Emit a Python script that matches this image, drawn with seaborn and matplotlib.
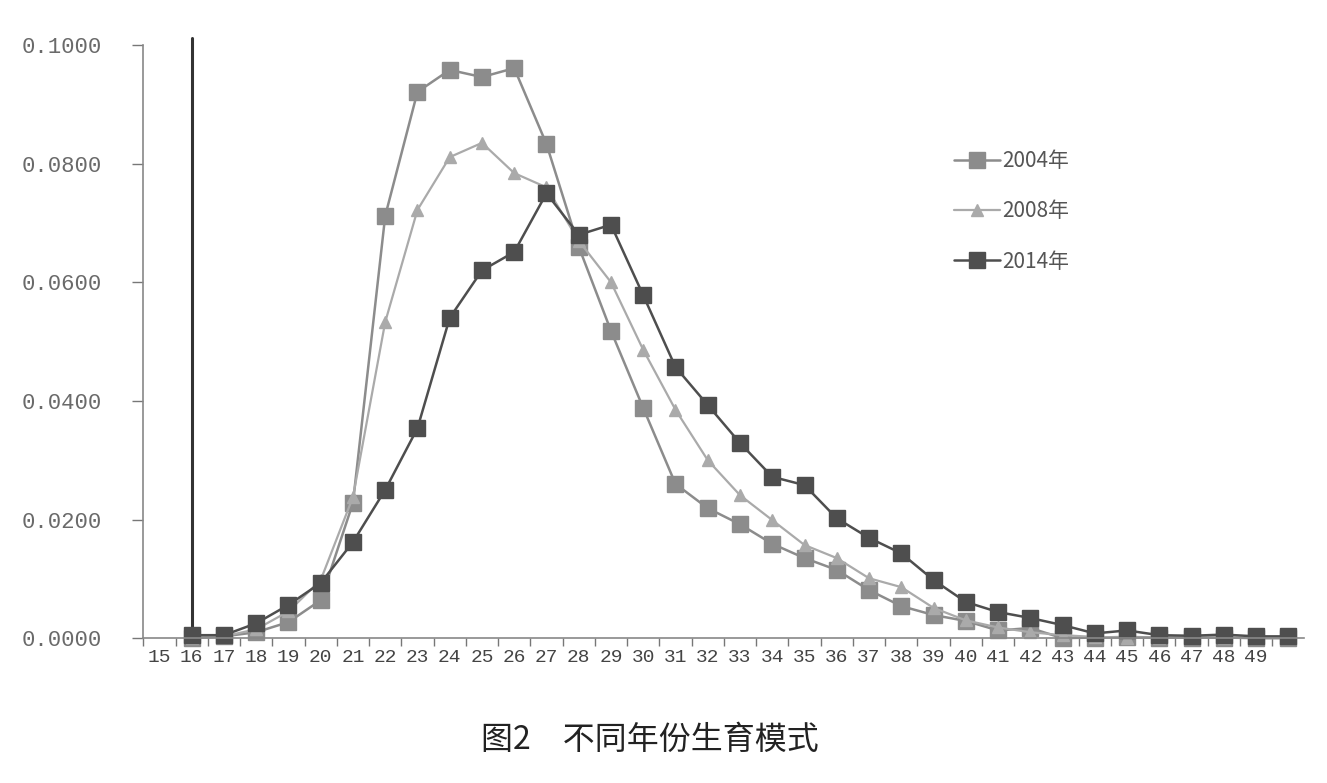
import numpy as np
import pandas as pd
import matplotlib
matplotlib.use("Agg")
import matplotlib.pyplot as plt
import seaborn as sns
from matplotlib.ticker import FixedLocator, FuncFormatter

ages = list(range(16, 51))

rate_2004 = [0.0000, 0.0003, 0.0010, 0.0027, 0.0064, 0.0228, 0.0712, 0.0921, 0.0958, 0.0946,
             0.0961, 0.0833, 0.0660, 0.0518, 0.0388, 0.0260, 0.0219, 0.0192, 0.0159, 0.0135,
             0.0115, 0.0081, 0.0054, 0.0039, 0.0029, 0.0013, 0.0017, 0.0000, 0.0001, 0.0002,
             0.0001, 0.0001, 0.0001, 0.0000, 0.0000]
rate_2008 = [0.0000, 0.0003, 0.0015, 0.0045, 0.0098, 0.0238, 0.0533, 0.0722, 0.0811, 0.0835,
             0.0784, 0.0760, 0.0670, 0.0600, 0.0486, 0.0385, 0.0300, 0.0241, 0.0199, 0.0157,
             0.0135, 0.0101, 0.0086, 0.0051, 0.0030, 0.0018, 0.0010, 0.0005, 0.0002, 0.0001,
             0.0001, 0.0001, 0.0001, 0.0000, 0.0000]
rate_2014 = [0.0005, 0.0005, 0.0025, 0.0056, 0.0093, 0.0162, 0.0250, 0.0354, 0.0540, 0.0620,
             0.0651, 0.0750, 0.0680, 0.0697, 0.0578, 0.0457, 0.0393, 0.0329, 0.0272, 0.0258,
             0.0202, 0.0169, 0.0143, 0.0098, 0.0061, 0.0044, 0.0034, 0.0022, 0.0008, 0.0013,
             0.0005, 0.0004, 0.0006, 0.0003, 0.0003]

series_names = ["2004年", "2008年", "2014年"]
x_labels = [str(a) for a in range(15, 50)]
y_ticks = [0.0, 0.02, 0.04, 0.06, 0.08, 0.10]
caption = "图2　不同年份生育模式"

sns.set_style("white")
plt.rcParams['font.family'] = ['Noto Sans CJK SC', 'DejaVu Sans']

fig = plt.figure(figsize=(13.27, 7.83), dpi=100)
ax = fig.add_axes([0.108, 0.185, 0.875, 0.7575])

styles = [
    dict(marker="s", color="#8c8c8c", markersize=11, linewidth=1.8),
    dict(marker="^", color="#aaaaaa", markersize=9, linewidth=1.6),
    dict(marker="s", color="#4e4e4e", markersize=11, linewidth=1.8),
]
for name, vals, st in zip(series_names, [rate_2004, rate_2008, rate_2014], styles):
    sns.lineplot(x=ages, y=vals, ax=ax, label=name, marker=st["marker"],
                 color=st["color"], markersize=st["markersize"],
                 linewidth=st["linewidth"], markeredgecolor=st["color"],
                 markeredgewidth=1, clip_on=False)

# dark vertical reference line at age 16
ax.axvline(16, ymin=0, ymax=1.012, color="#333333", linewidth=2.2, clip_on=False, zorder=1)

ax.set_xlim(14.5, 50.5)
ax.set_ylim(0, 0.1)

ax.xaxis.set_major_locator(FixedLocator(list(range(15, 50))))
ax.set_xticklabels(x_labels, family="Liberation Mono", fontsize=14, color="#444444")
ax.xaxis.set_minor_locator(FixedLocator([a + 0.5 for a in range(14, 50)]))
ax.tick_params(axis="x", which="major", length=0, pad=8)
ax.tick_params(axis="x", which="minor", length=6, width=1, color="#777777", direction="out", bottom=True)

ax.set_yticks(y_ticks)
ax.yaxis.set_major_formatter(FuncFormatter(lambda v, p: f"{v:.4f}"))
for t in ax.get_yticklabels():
    t.set_family("Liberation Mono")
    t.set_fontsize(16)
    t.set_color("#6a6a6a")
ax.tick_params(axis="y", length=8, width=1, color="#777777", direction="out", left=True, pad=22)

for s in ["top", "right"]:
    ax.spines[s].set_visible(False)
for s in ["left", "bottom"]:
    ax.spines[s].set_color("#888888")
    ax.spines[s].set_linewidth(1.2)

ax.set_xlabel("")
ax.set_ylabel("")

leg = ax.legend(loc="upper left", bbox_to_anchor=(0.705, 0.832), bbox_transform=fig.transFigure,
                frameon=False, fontsize=15, handlelength=2.2, handletextpad=0.1,
                labelspacing=1.35)
for t in leg.get_texts():
    t.set_color("#555555")

fig.text(0.49, 0.055, caption, ha="center", va="center", fontsize=23, color="#222222")

fig.savefig("out.png", dpi=100)
